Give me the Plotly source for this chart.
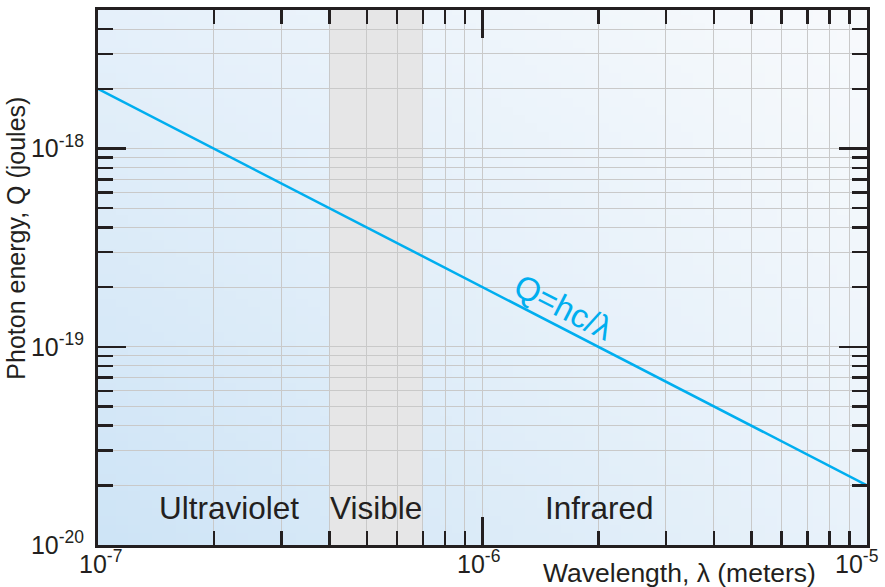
import base64, struct, zlib
import numpy as np
import plotly.graph_objects as go

# ---- data ----
wavelength_m = [1e-7, 1e-6, 1e-5]
energy_J = [2e-18, 2e-19, 2e-20]
visible_band = [4e-7, 7e-7]
regions = ["Ultraviolet", "Visible", "Infrared"]
x_major = [1e-7, 1e-6, 1e-5]
x_major_text = ["10<sup>-7</sup>", "10<sup>-6</sup>", "10<sup>-5</sup>"]
y_major = [1e-20, 1e-19, 1e-18]
y_major_text = ["10<sup>-20</sup>", "10<sup>-19</sup>", "10<sup>-18</sup>"]
x_minor = [m * 10.0 ** e for e in (-7, -6) for m in range(2, 10)]
y_minor = [m * 10.0 ** e for e in (-20, -19, -18) for m in range(2, 10) if m * 10.0 ** e <= 5e-18]

INK = "#231f20"
CYAN = "#00aeef"
GRID = "#c9c9c9"


def gradient_png(w=64, h=64):
    bl = np.array([206, 228, 246.0])
    tl = np.array([229, 240, 250.0])
    tr = np.array([248, 250, 252.0])
    br = np.array([233, 242, 250.0])
    rows = []
    for j in range(h):
        v = 1 - j / (h - 1)  # 1 = top
        raw = b"\x00"
        for i in range(w):
            u = i / (w - 1)
            c = (1 - u) * (1 - v) * bl + (1 - u) * v * tl + u * v * tr + u * (1 - v) * br
            raw += bytes(int(round(x)) for x in c)
        rows.append(raw)
    data = b"".join(rows)

    def chunk(t, d):
        c = struct.pack(">I", len(d)) + t + d
        return c + struct.pack(">I", zlib.crc32(t + d) & 0xFFFFFFFF)

    png = b"\x89PNG\r\n\x1a\n" + chunk(b"IHDR", struct.pack(">IIBBBBB", w, h, 8, 2, 0, 0, 0))
    png += chunk(b"IDAT", zlib.compress(data, 9)) + chunk(b"IEND", b"")
    return "data:image/png;base64," + base64.b64encode(png).decode()


fig = go.Figure()
fig.add_trace(go.Scatter(x=wavelength_m, y=energy_J, mode="lines",
                         line=dict(color=CYAN, width=2.5), hoverinfo="skip",
                         showlegend=False))

fig.add_layout_image(dict(source=gradient_png(), xref="paper", yref="paper",
                          x=0, y=1, sizex=1, sizey=1, sizing="stretch",
                          xanchor="left", yanchor="top", layer="below"))
fig.add_shape(type="rect", xref="x", yref="paper",
              x0=visible_band[0], x1=visible_band[1], y0=0, y1=1,
              fillcolor="#e6e6e7", line=dict(width=0), layer="below")

axis_common = dict(type="log", showline=True, linecolor=INK, linewidth=3,
                   mirror="allticks", ticks="inside", tickcolor=INK,
                   tickwidth=2.5, ticklen=28, showgrid=True, gridcolor=GRID,
                   gridwidth=1, zeroline=False,
                   tickfont=dict(family="Liberation Sans", size=25, color=INK))

fig.update_xaxes(**axis_common, range=[-7, -5], tickmode="array", tickvals=x_major,
                 showticklabels=False,
                 minor=dict(tickmode="array", tickvals=x_minor, ticks="inside", ticklen=14,
                            tickwidth=2.5, tickcolor=INK, showgrid=True,
                            gridcolor=GRID, gridwidth=1))
fig.update_yaxes(**axis_common, range=[-20, np.log10(5e-18)], tickmode="array",
                 tickvals=y_major, ticktext=y_major_text, ticklabelstandoff=6,
                 minor=dict(tickmode="array", tickvals=y_minor, ticks="inside", ticklen=15,
                            tickwidth=2.5, tickcolor=INK, showgrid=True,
                            gridcolor=GRID, gridwidth=1))

ann = []
# x tick labels
for v, t, sh in zip(x_major, x_major_text, [2, -4, -11]):
    ann.append(dict(x=np.log10(v), y=0, xref="x", yref="paper", text=t,
                    showarrow=False, xanchor="center", yanchor="top", yshift=1,
                    xshift=sh, font=dict(family="Liberation Sans", size=25, color=INK)))
# axis titles
ann.append(dict(x=-0.107, y=0.574, xref="paper", yref="paper",
                text="Photon energy, Q (joules)", textangle=-90, showarrow=False,
                xanchor="center", yanchor="middle",
                font=dict(family="Liberation Sans", size=25, color=INK)))
ann.append(dict(x=0.936, y=-0.052, xref="paper", yref="paper",
                text="Wavelength, λ (meters)", showarrow=False,
                xanchor="right", yanchor="middle",
                font=dict(family="Liberation Sans", size=26.5, color=INK)))
# region labels
for name, xv in zip(regions, [-6.66, -6.276, -5.696]):
    ann.append(dict(x=xv, y=-19.815, xref="x", yref="y", text=name, showarrow=False,
                    xanchor="center", yanchor="middle",
                    font=dict(family="Liberation Sans", size=31.5, color=INK)))
# formula label
ann.append(dict(x=-5.787, y=-18.80, xref="x", yref="y", text="Q=hc/λ",
                textangle=27, showarrow=False, xanchor="center", yanchor="middle",
                font=dict(family="Liberation Sans", size=33, color=CYAN)))

fig.update_layout(width=885, height=587, autosize=False,
                  margin=dict(l=98, r=18, t=7, b=42),
                  paper_bgcolor="white", plot_bgcolor="rgba(0,0,0,0)",
                  annotations=ann, showlegend=False, hovermode=False)

fig.write_html("out.html", config={"displayModeBar": False, "staticPlot": True},
               post_script="document.body.style.margin='0';document.body.style.padding='0';")
